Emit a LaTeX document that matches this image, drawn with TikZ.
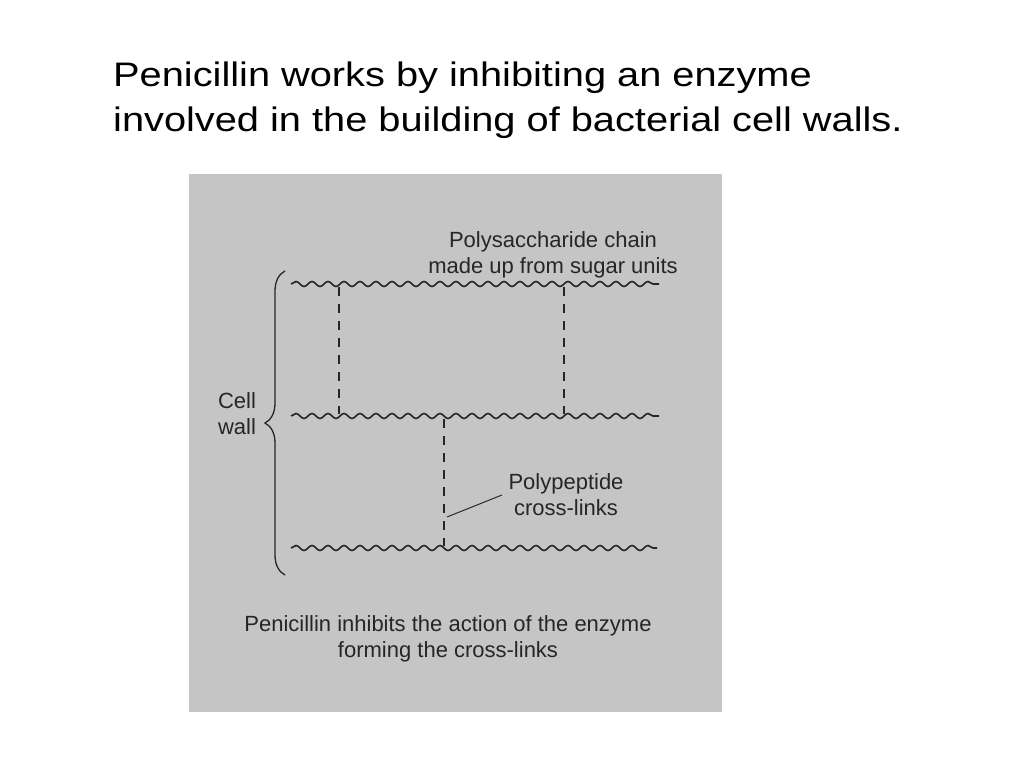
\documentclass[tikz,border=0pt]{standalone}
\usepackage{fontspec}
\setmainfont{Liberation Sans}
\usepackage{graphicx}
\usepackage{tikz}
\usetikzlibrary{positioning,decorations.pathmorphing,decorations.pathreplacing}
\definecolor{boxgray}{RGB}{197,197,197}
\definecolor{ink}{RGB}{38,38,38}

\begin{document}
\begin{tikzpicture}[x=1pt,y=-1pt,
    title text/.style={anchor=base west,inner sep=0pt,font=\fontsize{34}{45}\selectfont},
    label text/.style={align=center,inner sep=0pt,text=ink,font=\fontsize{22}{26}\selectfont},
    chain/.style={draw=ink,line width=1.6pt,decorate,decoration={snake,segment length=16pt,amplitude=2.5pt}},
    link/.style={draw=ink,line width=1.4pt,dash pattern=on 9pt off 8pt}]
    \useasboundingbox (0,0) rectangle (1024,768);
    \fill[boxgray] (189,174) rectangle (722,712);

    \node[title text] (title1) at (113,86) {\scalebox{1.17}[1]{Penicillin works by inhibiting an enzyme}};
    \node[title text] (title2) at (113,131) {\scalebox{1.17}[1]{involved in the building of bacterial cell walls.}};

    % sugar chains
    \coordinate (t1) at (291,284); \coordinate (t2) at (659,284);
    \coordinate (m1) at (291,416); \coordinate (m2) at (659,416);
    \coordinate (b1) at (291,548); \coordinate (b2) at (657,548);
    \path[chain] (t1) -- (t2);
    \path[chain] (m1) -- (m2);
    \path[chain] (b1) -- (b2);

    % cross-links
    \coordinate (l1) at (339,287); \coordinate (l2) at (339,414);
    \coordinate (r1) at (564,287); \coordinate (r2) at (564,414);
    \coordinate (c1) at (444,419); \coordinate (c2) at (444,546);
    \path[link] (l1) -- (l2);
    \path[link] (r1) -- (r2);
    \path[link] (c1) -- (c2);

    % base of a two-line node is its last line
    \node[label text,anchor=base] (sugar) at (553,273) {Polysaccharide chain\\made up from sugar units};
    \node[label text,anchor=base] (peptide) at (566,515) {Polypeptide\\cross-links};
    \node[label text,anchor=base,align=left] (wall) at (237,434) {Cell\\wall};
    \node[label text,anchor=base] (caption) at (448,657) {Penicillin inhibits the action of the enzyme\\forming the cross-links};

    % brace round the wall
    \coordinate (w1) at (285,575); \coordinate (w2) at (285,271);
    \draw[ink,line width=1.3pt,decorate,decoration={brace,amplitude=20pt}] (w1) -- (w2);

    \coordinate (ptr) at (447,517);
    \coordinate (ptrend) at (502,495);
    \draw[ink,line width=1pt] (ptr) -- (ptrend);
\end{tikzpicture}
\end{document}
